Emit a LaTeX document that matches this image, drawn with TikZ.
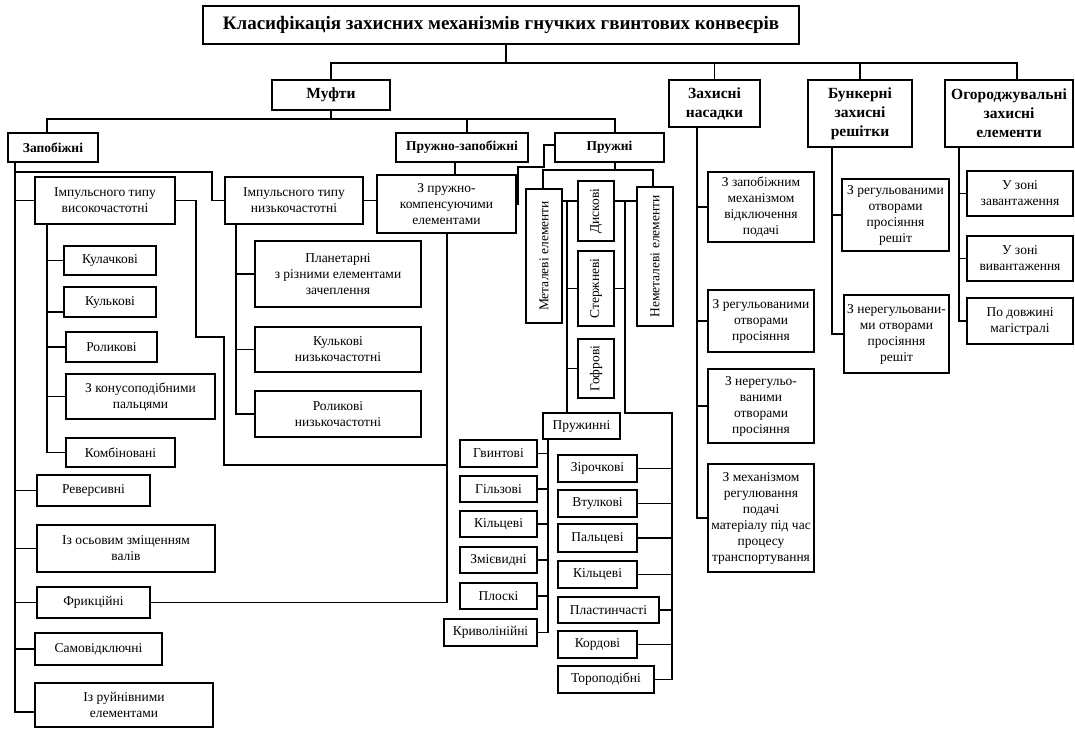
\documentclass[tikz,border=0pt]{standalone}
\usepackage{fontspec}
\setmainfont{Liberation Serif}
\usepackage{graphicx}
\newcommand\fnorm{\fontsize{13.5}{16}\selectfont}
\newcommand\fhead{\fontsize{15.5}{19}\selectfont\bfseries}
\newcommand\fsub{\fontsize{13.5}{15}\selectfont\bfseries}
\newcommand\ftitle{\fontsize{19}{22}\selectfont\bfseries}
\tikzset{
  box/.style={draw, line width=1.4pt, inner sep=1pt, align=center, font=\fnorm, fill=white},
  ln/.style={line width=1.4pt, line join=miter},
}
\newcommand\bx[7][]{\node[box,#1,minimum width={(#4)-(#2)},minimum height={(#5)-(#3)}] (#6) at ({((#2)+(#4))/2},{((#3)+(#5))/2}) {#7};}
\begin{document}
\begin{tikzpicture}[x=1pt,y=-1pt]
\useasboundingbox[fill=white] (0,0) rectangle (1075,729);
% top level
\bx[font=\ftitle]{203}{6}{799}{44}{title}{Класифікація захисних механізмів гнучких гвинтових конвеєрів}
\bx[font=\fhead]{272}{80}{390}{110}{muf}{Муфти}
\bx[font=\fhead]{669}{80}{760}{127}{zn}{Захисні\\насадки}
\bx[font=\fhead]{808}{80}{912}{147}{bun}{Бункерні\\захисні\\решітки}
\bx[font=\fhead]{945}{80}{1073}{147}{ogo}{Огороджувальні\\захисні\\елементи}
% muf level
\bx[font=\fsub]{8}{133}{98}{162}{zap}{Запобіжні}
\bx[font=\fsub]{396}{133}{528}{162}{pz}{Пружно-запобіжні}
\bx[font=\fsub]{555}{133}{664}{162}{pr}{Пружні}
% zapobizhni
\bx{35}{177}{175}{224}{iv}{Імпульсного типу\\високочастотні}
\bx{225}{177}{363}{224}{inz}{Імпульсного типу\\низькочастотні}
\bx{377}{175}{516}{233}{zpk}{З пружно-\\компенсуючими\\елементами}
\bx{64}{246}{156}{275}{kul1}{Кулачкові}
\bx{64}{287}{156}{317}{kul2}{Кулькові}
\bx{66}{332}{157}{362}{rol}{Роликові}
\bx{66}{374}{215}{419}{kon}{З конусоподібними\\пальцями}
\bx{66}{438}{175}{467}{komb}{Комбіновані}
\bx{255}{241}{421}{307}{plan}{Планетарні\\з різними елементами\\зачеплення}
\bx{255}{327}{421}{372}{kuln}{Кулькові\\низькочастотні}
\bx{255}{391}{421}{437}{roln}{Роликові\\низькочастотні}
\bx{37}{475}{150}{506}{rev}{Реверсивні}
\bx{37}{525}{215}{572}{osv}{Із осьовим зміщенням\\валів}
\bx{37}{587}{150}{618}{fri}{Фрикційні}
\bx{35}{633}{162}{665}{sam}{Самовідключні}
\bx{35}{683}{213}{727}{ruy}{Із руйнівними\\елементами}
% pruzhni
\bx{526}{189}{562}{323}{met}{\rotatebox{90}{Металеві елементи}}
\bx{637}{187}{673}{326}{nemet}{\rotatebox{90}{Неметалеві елементи}}
\bx{578}{181}{614}{241}{dys}{\rotatebox{90}{Дискові}}
\bx{578}{251}{614}{326}{ster}{\rotatebox{90}{Стержневі}}
\bx{578}{339}{614}{398}{gof}{\rotatebox{90}{Гофрові}}
\bx{543}{413}{620}{439}{pruzh}{Пружинні}
\bx{460}{440}{537}{467}{g1}{Гвинтові}
\bx{460}{476}{537}{502}{g2}{Гільзові}
\bx{460}{511}{537}{537}{g3}{Кільцеві}
\bx{460}{547}{537}{573}{g4}{Змієвидні}
\bx{460}{583}{537}{609}{g5}{Плоскі}
\bx{444}{619}{537}{646}{g6}{Криволінійні}
\bx{558}{455}{637}{482}{h1}{Зірочкові}
\bx{558}{490}{637}{517}{h2}{Втулкові}
\bx{558}{524}{637}{552}{h3}{Пальцеві}
\bx{558}{561}{637}{588}{h4}{Кільцеві}
\bx{558}{597}{659}{623}{h5}{Пластинчасті}
\bx{558}{631}{637}{658}{h6}{Кордові}
\bx{558}{666}{654}{693}{h7}{Тороподібні}
% right groups
\bx{708}{172}{814}{242}{z1}{З запобіжним\\механізмом\\відключення\\подачі}
\bx{708}{290}{814}{352}{z2}{З регульованими\\отворами\\просіяння}
\bx{708}{369}{814}{443}{z3}{З нерегульо-\\ваними\\отворами\\просіяння}
\bx{708}{464}{814}{572}{z4}{З механізмом\\регулювання\\подачі\\матеріалу під час\\процесу\\транспортування}
\bx{842}{179}{949}{251}{b1}{З регульованими\\отворами\\просіяння\\решіт}
\bx{844}{295}{949}{373}{b2}{З нерегульовани-\\ми отворами\\просіяння\\решіт}
\bx{967}{171}{1073}{216}{o1}{У зоні\\завантаження}
\bx{967}{236}{1073}{281}{o2}{У зоні\\вивантаження}
\bx{967}{298}{1073}{344}{o3}{По довжині\\магістралі}
% ---------- connectors ----------
\coordinate (b0) at (506,63);
\coordinate (d4) at (1017,63);
\draw[ln] (title.south -| b0) -- (b0);
\draw[ln] (muf.north) |- (d4) -- (ogo.north -| d4);
\draw[ln] (zn.north) -- (zn.north |- d4);
\draw[ln] (bun.north) -- (bun.north |- d4);
% muf bus
\coordinate (m1) at (47,119);
\coordinate (m2) at (615,119);
\coordinate (m3) at (467,119);
\draw[ln] (muf.south) -- (muf.south |- m1);
\draw[ln] (zap.north -| m1) -- (m1) -- (m2) -- (pr.north -| m2);
\draw[ln] (m3) -- (pz.north -| m3);
% zapobizhni trunk
\coordinate (t0) at (15,712);
\draw[ln] (zap.south -| t0) -- (t0) -- (ruy.west |- t0);
\foreach \n in {iv,rev,osv,fri,sam} \draw[ln] (t0 |- \n.west) -- (\n.west);
\coordinate (a1) at (15,172);
\coordinate (a2) at (212,172);
\draw[ln] (a1) -- (a2) |- (inz.west);
\draw[ln] (inz.east) -- (zpk.west |- inz.east);
\coordinate (a3) at (455,150);
\draw[ln] (pz.south -| a3) -- (zpk.north -| a3);
% vysokochastotni children
\coordinate (k0) at (47,452);
\draw[ln] (iv.south -| k0) |- (komb.west);
\foreach \n in {kul1,rol,kon} \draw[ln] (k0 |- \n.west) -- (\n.west);
\draw[ln] ([yshift=-10pt]k0 |- kul2.west) -- ([yshift=-10pt]kul2.west);
% nyzkochastotni children
\coordinate (k1) at (236,300);
\draw[ln] (inz.south -| k1) |- (roln.west);
\foreach \n in {plan,kuln} \draw[ln] (k1 |- \n.west) -- (\n.west);
% loop from iv to friktsiini
\coordinate (c1) at (196,337);
\coordinate (c2) at (224,465);
\coordinate (c3) at (447,600);
\draw[ln] (iv.east) -| (c1) -| (c2) -- (c2 -| c3);
\draw[ln] (zpk.south -| c3) |- (fri.east);
% zigzag to pruzhni
\coordinate (q1) at (518,167);
\coordinate (q2) at (544,145);
\draw[ln] (zpk.east) -- (zpk.east -| q1) -- (q1) -| (q2) -- (pr.west |- q2);
% pruzhni
\coordinate (p0) at (615,170);
\coordinate (p1) at (543,170);
\coordinate (p2) at (653,170);
\draw[ln] (pr.south -| p0) -- (p0);
\draw[ln] (met.north -| p1) |- (p2) -- (nemet.north -| p2);
\coordinate (r1) at (567,201);
\coordinate (r2) at (625,201);
\coordinate (r3) at (672,413);
\draw[ln] (met.east |- r1) -- (dys.west |- r1);
\draw[ln] (dys.east |- r2) -- (nemet.west |- r2);
\draw[ln] (r1) -- (r1 |- pruzh.north);
\draw[ln] (r1 |- ster.west) -- (ster.west);
\draw[ln] (r1 |- gof.west) -- (gof.west);
\draw[ln] (ster.east) -- (ster.east -| r2);
\draw[ln] (r2) |- (r3) |- (h7.east);
\foreach \n in {h1,h2,h3,h4,h5,h6} \draw[ln] (\n.east) -- (\n.east -| r3);
% pruzhynni
\coordinate (s0) at (548,500);
\draw[ln] (pruzh.south -| s0) |- (g6.east);
\foreach \n in {g1,g2,g3,g4,g5} \draw[ln] (\n.east) -- (\n.east -| s0);
% right groups
\coordinate (zt) at (697,300);
\draw[ln] (zn.south -| zt) |- (z4.west);
\foreach \n in {z1,z2,z3} \draw[ln] (zt |- \n.west) -- (\n.west);
\coordinate (bt) at (832,300);
\draw[ln] (bun.south -| bt) |- (b2.west);
\draw[ln] (bt |- b1.west) -- (b1.west);
\coordinate (ot) at (959,300);
\draw[ln] (ogo.south -| ot) |- (o3.west);
\foreach \n in {o1,o2} \draw[ln] (ot |- \n.west) -- (\n.west);
\end{tikzpicture}
\end{document}
